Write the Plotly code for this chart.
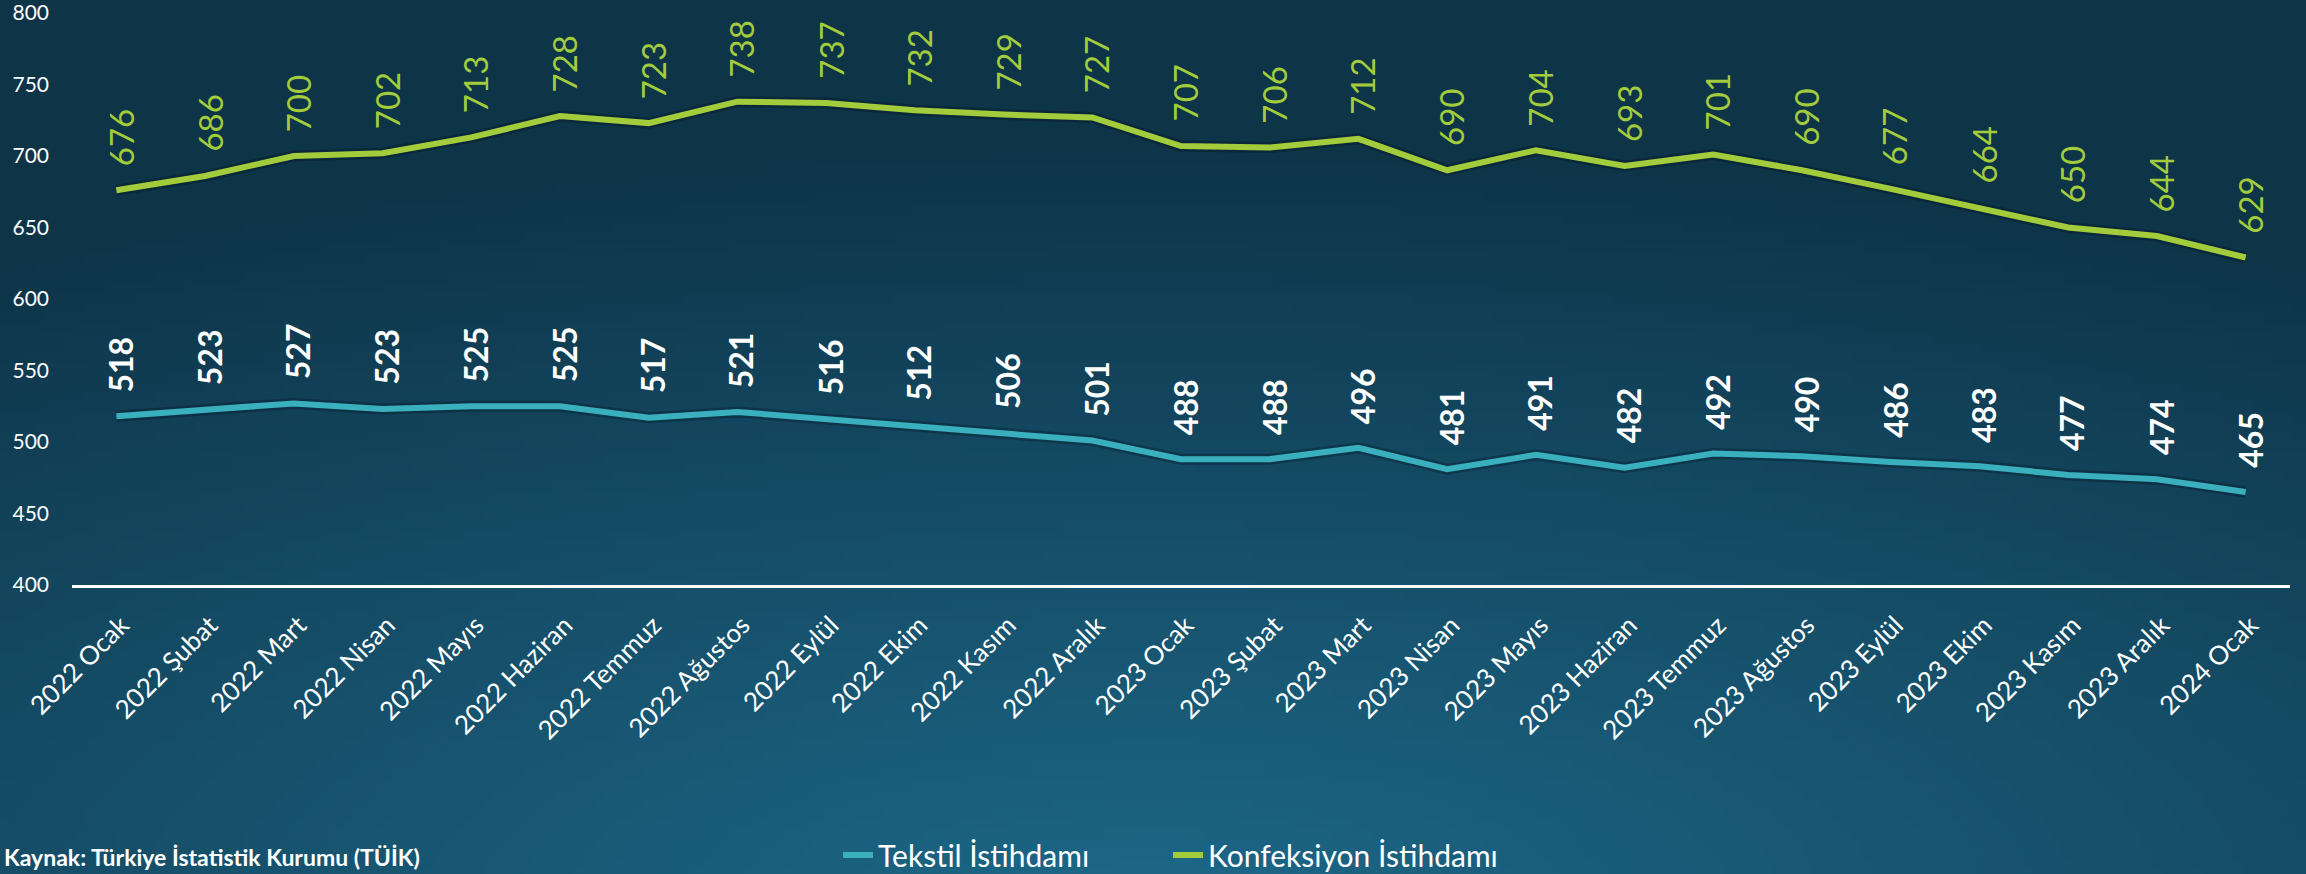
import base64
import struct
import zlib

import plotly.graph_objects as go

# data
months = ["2022 Ocak", "2022 Şubat", "2022 Mart", "2022 Nisan", "2022 Mayıs", "2022 Haziran",
          "2022 Temmuz", "2022 Ağustos", "2022 Eylül", "2022 Ekim", "2022 Kasım", "2022 Aralık",
          "2023 Ocak", "2023 Şubat", "2023 Mart", "2023 Nisan", "2023 Mayıs", "2023 Haziran",
          "2023 Temmuz", "2023 Ağustos", "2023 Eylül", "2023 Ekim", "2023 Kasım", "2023 Aralık",
          "2024 Ocak"]
tekstil = [518, 523, 527, 523, 525, 525, 517, 521, 516, 512, 506, 501,
           488, 488, 496, 481, 491, 482, 492, 490, 486, 483, 477, 474, 465]
konfeksiyon = [676, 686, 700, 702, 713, 728, 723, 738, 737, 732, 729, 727,
               707, 706, 712, 690, 704, 693, 701, 690, 677, 664, 650, 644, 629]
y_ticks = [400, 450, 500, 550, 600, 650, 700, 750, 800]

W, H = 2306, 874
ML, MR, MT, MB = 72, 16, 13, 289
PW, PH = W - ML - MR, H - MT - MB

TEAL = "#3aafbe"
GREEN = "#a2cc3c"
FONT = "Lato"


def gradient_png(w, h):
    # soft glow from the bottom centre, dark navy at the top
    dark = (14, 52, 72)
    light = (29, 104, 136)
    rows = []
    for j in range(h):
        py = (j + 0.5) / h * H
        row = bytearray([0])
        for i in range(w):
            px = (i + 0.5) / w * W
            dx = (px - 1150) / 2200
            dy = (py - 900) / 760
            t = max(0.0, 1 - (dx * dx + dy * dy) ** 0.5)
            row += bytes(int(dark[k] + (light[k] - dark[k]) * t) for k in range(3))
        rows.append(bytes(row))
    raw = b"".join(rows)

    def chunk(tag, data):
        c = struct.pack(">I", len(data)) + tag + data
        return c + struct.pack(">I", zlib.crc32(tag + data) & 0xFFFFFFFF)

    png = b"\x89PNG\r\n\x1a\n"
    png += chunk(b"IHDR", struct.pack(">IIBBBBB", w, h, 8, 2, 0, 0, 0))
    png += chunk(b"IDAT", zlib.compress(raw, 9))
    png += chunk(b"IEND", b"")
    return "data:image/png;base64," + base64.b64encode(png).decode()


fig = go.Figure()

# faint shadows under the lines
for vals in (tekstil, konfeksiyon):
    fig.add_trace(go.Scatter(x=months, y=vals, mode="lines", showlegend=False, hoverinfo="skip",
                             line=dict(color="rgba(0,10,20,0.28)", width=11)))

fig.add_trace(go.Scatter(x=months, y=tekstil, mode="lines", name="Tekstil İstihdamı",
                         line=dict(color=TEAL, width=6), legend="legend"))
fig.add_trace(go.Scatter(x=months, y=konfeksiyon, mode="lines", name="Konfeksiyon İstihdamı",
                         line=dict(color=GREEN, width=6), legend="legend2"))

# rotated value labels
for vals, col, weight, size in ((tekstil, "white", "bold", 32), (konfeksiyon, GREEN, "normal", 33)):
    for m, v in zip(months, vals):
        fig.add_annotation(x=m, y=v, text=str(v), textangle=-90, showarrow=False,
                           xanchor="center", yanchor="bottom", yshift=22, xshift=4,
                           font=dict(family=FONT, size=size, color=col, weight=weight))

fig.add_annotation(text="<b>Kaynak: Türkiye İstatistik Kurumu (TÜİK)</b>",
                   xref="paper", yref="paper", x=-(ML - 2) / PW, y=-(H - MT - PH - 1) / PH,
                   xanchor="left", yanchor="bottom", showarrow=False,
                   font=dict(family=FONT, size=23, color="white"))

fig.add_layout_image(dict(source=gradient_png(231, 88), xref="paper", yref="paper",
                          x=-ML / PW, y=1 + MT / PH, sizex=W / PW, sizey=H / PH,
                          xanchor="left", yanchor="top", sizing="stretch", layer="below"))

leg = dict(orientation="h", xanchor="left", y=-(855 - MT - PH) / PH, yanchor="middle",
           font=dict(family=FONT, size=30, color="white"), bgcolor="rgba(0,0,0,0)")

fig.update_layout(
    width=W, height=H,
    margin=dict(l=ML, r=MR, t=MT, b=MB, autoexpand=False),
    paper_bgcolor="#123f55",
    plot_bgcolor="rgba(0,0,0,0)",
    font=dict(family=FONT, color="white"),
    showlegend=True,
    legend=dict(leg, x=(838 - ML) / PW),
    legend2=dict(leg, x=(1168 - ML) / PW),
    xaxis=dict(range=[-0.5, len(months) - 0.5], showgrid=False, zeroline=False, showline=True,
               linecolor="white", linewidth=2.5, tickangle=-45,
               tickfont=dict(family=FONT, size=26, color="white"),
               ticklabelstandoff=12, ticklabelshift=5),
    yaxis=dict(range=[400, 800], tickvals=y_ticks, showgrid=False, zeroline=False, showline=False,
               tickfont=dict(family=FONT, size=21, color="white"), ticklabelstandoff=22,
               ticklabeloverflow="allow"),
)

fig.write_html("out.html", config={"displayModeBar": False},
               post_script="document.body.style.margin='0';document.body.style.overflow='hidden';")
